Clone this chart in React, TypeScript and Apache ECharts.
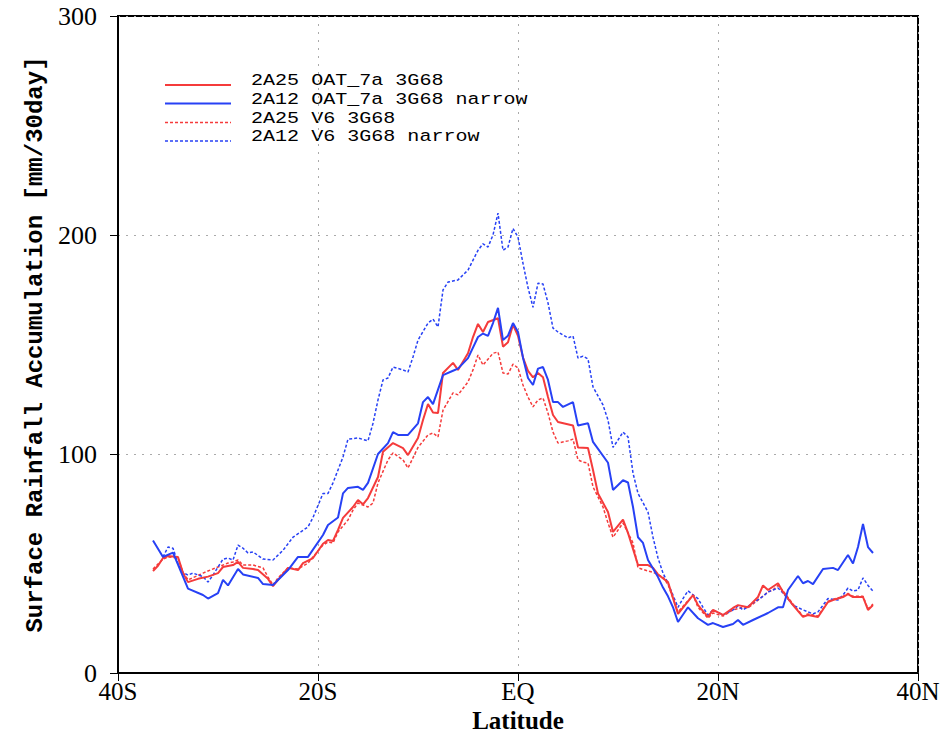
import React, { useEffect, useRef } from "react";
import * as echarts from "echarts";

// Latitude ticks
const xTicks = [-40, -20, 0, 20, 40];
const yTicks = [0, 100, 200, 300];

const seriesNames = [
  "2A25 OAT_7a 3G68",
  "2A12 OAT_7a 3G68 narrow",
  "2A25 V6 3G68",
  "2A12 V6 3G68 narrow",
];

// [latitude, mm/30day]
const redSolid: number[][] = [
  [-36.5, 46.6], [-36, 49], [-35.5, 52.5], [-35, 53.4], [-34, 53], [-33.5, 45.6], [-33, 41.5], [-32, 43],
  [-31, 44], [-30, 45.6], [-29.5, 48.4], [-28.5, 49.3], [-28, 50.7], [-27.5, 48], [-26.5, 47.5], [-26, 47],
  [-25, 43], [-24.5, 39.7], [-24, 42.5], [-23, 48], [-22, 47], [-21.5, 50.2], [-20.5, 52.5], [-19.5, 59],
  [-19, 60.7], [-18.5, 60.3], [-18, 65.3], [-17.5, 70.8], [-16.5, 75.8], [-16, 79], [-15.5, 77], [-15, 79.9],
  [-14, 89.5], [-13.5, 101], [-12.5, 105], [-11.5, 102.7], [-11, 99.5], [-10, 107.3], [-9.5, 115.5], [-9, 122.8],
  [-8.5, 119], [-8, 118.7], [-7.5, 137], [-6.5, 141.6], [-6, 138.4], [-5, 146], [-4.5, 153.4], [-4, 159.4],
  [-3.5, 155.7], [-3, 160.3], [-2, 162], [-1.5, 149], [-1, 151], [-0.5, 159], [0, 154], [0.5, 144],
  [1, 138], [1.5, 135], [2, 137], [2.5, 135], [3, 126], [3.5, 117.8], [4, 114.6], [5.5, 113],
  [6, 103], [7, 102.7], [7.5, 92.7], [8, 82], [9, 73.5], [9.5, 64.4], [10.5, 70], [11, 64],
  [12, 49.3], [13, 49.3], [13.5, 48], [14, 45], [15, 41.5], [16, 27], [17.5, 35.6], [18, 31],
  [19, 25.6], [19.5, 28.8], [20.5, 26.5], [21.5, 29.7], [22, 31], [23, 30], [24, 34.7], [24.5, 40],
  [25, 37.9], [26, 41], [26.5, 37], [27.5, 31], [28.5, 25.6], [29, 26.5], [30, 25.6], [31, 32.4],
  [31.5, 33.3], [32.5, 34.7], [33, 36], [33.5, 34.7], [34.5, 34.7], [35, 28.8], [35.5, 31],
];

const blueSolid: number[][] = [
  [-36.5, 60.5], [-35.5, 53], [-34.5, 55], [-33.5, 44], [-33, 38.5], [-31.5, 35.6], [-31, 34], [-30, 36.5],
  [-29.5, 42.5], [-29, 40], [-28, 47.5], [-27.5, 45], [-26, 43.4], [-25.5, 40.6], [-24.5, 40.2], [-23, 47],
  [-22, 53], [-21, 53], [-19.5, 63], [-19, 67.6], [-18, 71], [-17.5, 82], [-17, 84.5], [-16, 85],
  [-15.5, 83.6], [-15, 86.8], [-14, 100], [-13, 105], [-12.5, 110], [-12, 108.7], [-11, 108.7], [-10, 114],
  [-9.5, 123.7], [-9, 126], [-8.5, 122.8], [-7.5, 136], [-6.5, 138], [-6, 139], [-5, 143.8], [-4, 153.4],
  [-3.5, 155], [-3, 153.9], [-2.5, 159.8], [-2, 166.7], [-1.5, 152], [-1, 154], [-0.5, 159.8], [0, 155.7],
  [0.5, 144], [1, 134.7], [1.5, 131.5], [2, 139], [2.5, 139.7], [3, 133.8], [3.5, 123.7], [4, 123.7],
  [4.5, 121.5], [5.5, 123.7], [6, 113], [7, 114], [7.5, 105.5], [9, 96], [9.5, 83.6], [10.5, 88],
  [11, 87], [11.5, 75.8], [12, 62], [12.5, 59.4], [13, 51.6], [14, 43.8], [14.5, 39], [15, 35],
  [15.5, 30], [16, 23.3], [17, 30], [18, 25], [19, 22], [19.5, 22.8], [20.5, 21], [21.5, 22.4],
  [22, 24.2], [22.5, 22], [23.5, 24.2], [25, 27.4], [26, 30], [26.5, 30], [27, 37.9], [28, 44.3],
  [28.5, 41], [29, 42], [29.5, 40.6], [30.5, 47.5], [31.5, 48], [32, 47], [33, 53.9], [33.5, 50],
  [34, 57.5], [34.5, 68], [35, 57.5], [35.5, 54.8],
];

const redDashed: number[][] = [
  [-36.5, 47.5], [-35.5, 52], [-35, 53], [-34, 52.5], [-33.5, 46], [-33, 42.5], [-31.5, 45.6], [-31, 46.6],
  [-30, 48.4], [-29, 50.2], [-28.5, 50.7], [-28, 51.6], [-27.5, 49.3], [-26.5, 49.3], [-25.5, 48], [-25, 43.8],
  [-24.5, 40.2], [-24, 43.4], [-23, 48], [-22, 47.5], [-21, 50.2], [-20.5, 53], [-19.5, 58.4], [-19, 59.8],
  [-18.5, 59.4], [-18, 64.4], [-17, 69.9], [-16.5, 74.4], [-16, 77.6], [-15, 75.8], [-14.5, 77.6], [-14, 86.8],
  [-13, 97.3], [-12.5, 100.5], [-11.5, 97.3], [-11, 93.6], [-10, 103], [-9, 108.7], [-8.5, 109.6], [-8, 107.8],
  [-7.5, 120], [-6.5, 127.9], [-6, 127], [-5, 132.9], [-4.5, 138.4], [-4, 145.2], [-3.5, 140.6], [-2.5, 146],
  [-2, 146.6], [-1.5, 137], [-1, 136.5], [-0.5, 141], [0, 139.3], [0.5, 131.5], [1, 126], [1.5, 121.5],
  [2, 124.7], [2.5, 125.6], [3, 118.7], [3.5, 110], [4, 105], [5, 106], [5.5, 106.8], [6, 97.3],
  [6.5, 96.3], [7, 95.9], [7.5, 85], [8.5, 75.8], [9, 68.5], [9.5, 62], [10.5, 68.5], [11.5, 59.4],
  [12, 48], [13, 46.6], [13.5, 46], [14.5, 43.8], [15, 40.4], [16, 27.9], [17.5, 35.6], [18, 30],
  [19, 25], [19.5, 27.4], [20.5, 26], [21.5, 28.8], [22.5, 30], [23, 29.7], [24, 33.3], [25, 37],
  [25.5, 37.9], [26, 40], [26.5, 37.5], [27.5, 31.5], [28.5, 26], [29, 27], [30, 26], [31, 32.8],
  [31.5, 33.6], [32.5, 35], [33, 36.3], [33.5, 35], [34.5, 35], [35, 29.3], [35.5, 31.5],
];

const blueDashed: number[][] = [
  [-35.5, 53], [-35, 57.5], [-34.5, 57], [-34, 50], [-33.5, 46], [-33, 44.7], [-32.5, 45.6], [-31.5, 44],
  [-31, 41.5], [-30.5, 44.7], [-29.5, 52], [-29, 52.5], [-28.5, 51.6], [-28, 58.4], [-27.5, 57], [-27, 54.8],
  [-26.5, 55.3], [-25.5, 52], [-24.5, 51.6], [-23.5, 56], [-22.5, 62], [-21, 66.7], [-20.5, 71], [-19.5, 82],
  [-19, 82], [-18.5, 86.8], [-17.5, 98.6], [-17, 106.8], [-16, 107.3], [-15, 106], [-14.5, 114], [-14, 124.7],
  [-13.5, 133.8], [-13, 134.7], [-12.5, 139.7], [-11.5, 138.4], [-11, 137.4], [-10.5, 144.3], [-10, 152], [-9, 159.8],
  [-8.5, 161.6], [-8, 158], [-7.5, 174.9], [-7, 178.5], [-6, 179.5], [-5, 184], [-4, 193], [-3.5, 196],
  [-3, 194.5], [-2.5, 200], [-2, 210], [-1.5, 193], [-1, 194.5], [-0.5, 203], [0, 199], [0.5, 187],
  [1, 176], [1.5, 167], [2, 178], [2.5, 177.6], [3, 169], [3.5, 157.5], [4, 155.7], [5, 153],
  [5.5, 153.9], [6, 143.8], [6.5, 144.7], [7, 143.4], [7.5, 130.6], [8.5, 122.4], [9, 115.5], [9.5, 103],
  [10, 106.4], [10.5, 110], [11, 107.8], [11.5, 91.3], [12, 82], [13, 73.5], [13.5, 62], [14, 52.5],
  [14.5, 45.6], [15, 41], [16, 30], [16.5, 34], [17, 37.5], [18, 34], [18.5, 30], [19, 26.5],
  [19.5, 28.8], [20.5, 26.5], [21.5, 28.8], [22, 30.6], [22.5, 28.8], [23.5, 32], [24.5, 35], [25, 37],
  [26, 38.8], [26.5, 36.5], [27.5, 31], [28.5, 28.8], [29.5, 27], [30, 27.9], [31, 34], [32, 33.3],
  [32.5, 35.6], [33, 38.8], [33.5, 37.4], [34, 37.9], [34.5, 43.4], [35, 40], [35.5, 37.4],
];

const RED = "#f53b3b";
const BLUE = "#2741f5";

const seriesData = [redSolid, blueSolid, redDashed, blueDashed];
const seriesColors = [RED, BLUE, RED, BLUE];
const seriesDashed = [false, false, true, true];

function latLabel(v: number): string {
  if (v === 0) return "EQ";
  return v < 0 ? `${-v}S` : `${v}N`;
}

export default function App() {
  const ref = useRef<HTMLDivElement>(null);
  useEffect(() => {
    if (!ref.current) return;
    const chart = echarts.init(ref.current, undefined, { renderer: "svg" });
    const legendY = [85, 103.5, 122.5, 141];
    const graphic: any[] = [];
    seriesNames.forEach((name, i) => {
      graphic.push({
        type: "line",
        shape: { x1: 165, y1: legendY[i], x2: 231, y2: legendY[i] },
        style: {
          stroke: seriesColors[i],
          lineWidth: seriesDashed[i] ? 1.5 : 2,
          lineDash: seriesDashed[i] ? [3, 2] : null,
        },
        silent: true,
      });
      graphic.push({
        type: "text",
        x: 251,
        y: legendY[i] - 4,
        scaleX: 1.18,
        style: {
          text: name,
          fontFamily: "Liberation Mono",
          fontSize: 17,
          lineHeight: 16,
          fill: "#000",
          verticalAlign: "middle",
          align: "left",
        },
        silent: true,
      });
    });

    chart.setOption({
      animation: false,
      backgroundColor: "#fff",
      grid: {
        left: 118,
        right: 30,
        top: 16,
        bottom: 61,
        containLabel: false,
        outerBoundsMode: "none",
        show: true,
        borderColor: "#000",
        borderWidth: 2,
        backgroundColor: "transparent",
      },
      xAxis: {
        type: "value",
        min: xTicks[0],
        max: xTicks[xTicks.length - 1],
        interval: 20,
        name: "Latitude",
        nameLocation: "middle",
        nameGap: 35,
        nameMoveOverlap: false,
        nameTextStyle: {
          fontFamily: "Liberation Serif",
          fontWeight: "bold",
          fontSize: 25,
          lineHeight: 24,
          color: "#000",
        },
        axisLine: { show: true, onZero: false, lineStyle: { color: "#000", width: 2 } },
        axisTick: { show: true, inside: false, length: 8, lineStyle: { color: "#000", width: 1 } },
        axisLabel: {
          formatter: (v: number) => latLabel(v),
          fontFamily: "Liberation Serif",
          fontSize: 25,
          lineHeight: 20,
          color: "#000",
          margin: 8,
        },
        splitLine: { show: true, lineStyle: { color: "#aaa", type: [2, 6], width: 1 } },
      },
      yAxis: {
        type: "value",
        min: yTicks[0],
        max: yTicks[yTicks.length - 1],
        interval: 100,
        name: "Surface Rainfall Accumulation [mm/30day]",
        nameLocation: "middle",
        nameRotate: 90,
        nameGap: 71,
        nameMoveOverlap: false,
        nameTextStyle: {
          fontFamily: "Liberation Mono",
          fontWeight: "bold",
          fontSize: 24,
          color: "#000",
        },
        axisLine: { show: true, onZero: false, lineStyle: { color: "#000", width: 2 } },
        axisTick: { show: true, inside: false, length: 8, lineStyle: { color: "#000", width: 1 } },
        axisLabel: {
          fontFamily: "Liberation Serif",
          fontSize: 26,
          lineHeight: 16,
          color: "#000",
          margin: 21,
        },
        splitLine: { show: true, lineStyle: { color: "#aaa", type: [2, 6], width: 1 } },
      },
      series: seriesNames.map((name, i) => ({
        name,
        type: "line",
        data: seriesData[i],
        showSymbol: false,
        symbol: "none",
        smooth: false,
        lineStyle: {
          color: seriesColors[i],
          width: seriesDashed[i] ? 1.5 : 2,
          type: seriesDashed[i] ? [3, 2] : "solid",
        },
        itemStyle: { color: seriesColors[i] },
        z: seriesDashed[i] ? 2 : 3,
      })),
      graphic,
    });
    return () => chart.dispose();
  }, []);
  return (
    <div
      ref={ref}
      style={{ position: "absolute", left: 0, top: 0, width: 948, height: 734 }}
    />
  );
}
